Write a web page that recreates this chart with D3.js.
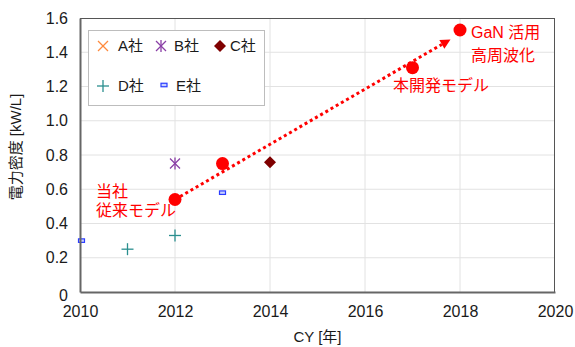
<!DOCTYPE html>
<html><head><meta charset="utf-8">
<script src="https://cdn.jsdelivr.net/npm/d3@7"></script>
<style>
html,body{margin:0;padding:0;background:#fff;}
svg{display:block;font-family:"Liberation Sans","Noto Sans CJK JP",sans-serif;}
</style></head>
<body>
<svg id="chart" width="575" height="347"></svg>
<script>
// ---- data ----
const xTicks = [2010, 2012, 2014, 2016, 2018, 2020];
const yTicks = [0, 0.2, 0.4, 0.6, 0.8, 1.0, 1.2, 1.4, 1.6];
const ourYears = [2012, 2013, 2017, 2018];
const ourValues = [0.54, 0.75, 1.31, 1.53];
const aYears = [];
const aValues = [];
const bYears = [2012];
const bValues = [0.75];
const cYears = [2014];
const cValues = [0.757];
const dYears = [2011, 2012];
const dValues = [0.25, 0.33];
const eYears = [2010, 2013];
const eValues = [0.30, 0.58];
const trendYears = [2012, 2017.8];
const trendValues = [0.54, 1.475];
const legendNames = ["A社", "B社", "C社", "D社", "E社"];
const xTitle = "CY [年]";
const yTitle = "電力密度 [kW/L]";

// ---- setup ----
const svg = d3.select("#chart");
const L = 80, R = 555, T = 18, B = 292;
const x = d3.scaleLinear().domain([2010, 2020]).range([L, R]);
const y = d3.scaleLinear().domain([0, 1.6]).range([B, T]);

// grid
const g = svg.append("g");
g.selectAll("line.hg").data(yTicks.slice(1, -1)).join("line")
  .attr("x1", L).attr("x2", R).attr("y1", d => y(d)).attr("y2", d => y(d))
  .attr("stroke", "#e2e2e2").attr("stroke-width", 1);
g.selectAll("line.vg").data(xTicks.slice(1, -1)).join("line")
  .attr("y1", T).attr("y2", B).attr("x1", d => x(d)).attr("x2", d => x(d))
  .attr("stroke", "#e2e2e2").attr("stroke-width", 1);

// marker helpers
function xMark(sel, s, col) {
  sel.append("line").attr("x1", -s).attr("y1", -s).attr("x2", s).attr("y2", s).attr("stroke", col).attr("stroke-width", 1.3);
  sel.append("line").attr("x1", -s).attr("y1", s).attr("x2", s).attr("y2", -s).attr("stroke", col).attr("stroke-width", 1.3);
}
function starMark(sel, col) {
  xMark(sel, 5, col);
  sel.append("line").attr("x1", 0).attr("y1", -6).attr("x2", 0).attr("y2", 6).attr("stroke", col).attr("stroke-width", 1.3);
}
function plusMark(sel, col) {
  sel.append("line").attr("x1", -6).attr("y1", 0).attr("x2", 6).attr("y2", 0).attr("stroke", col).attr("stroke-width", 1.3);
  sel.append("line").attr("x1", 0).attr("y1", -6).attr("x2", 0).attr("y2", 6).attr("stroke", col).attr("stroke-width", 1.3);
}
function diamondMark(sel, col) {
  sel.append("path").attr("d", "M0,-6L6,0L0,6L-6,0Z").attr("fill", col);
}
function rectMark(sel) {
  sel.append("rect").attr("x", -3).attr("y", -1.75).attr("width", 6).attr("height", 3.5)
    .attr("fill", "#c8d0ff").attr("stroke", "#2a3cff").attr("stroke-width", 1.2);
}
const colA = "#ff8a3d", colB = "#8a3fa6", colC = "#7f0000", colD = "#2a8f8f", colRed = "#ff0000";

function plotSeries(xs, vs, draw) {
  xs.forEach((yr, i) => {
    const s = svg.append("g").attr("transform", `translate(${x(yr) + 1.5 * (yr === 2010)},${y(vs[i])})`);
    draw(s);
  });
}
plotSeries(eYears, eValues, s => rectMark(s));

// frame
svg.append("line").attr("x1", L).attr("x2", R).attr("y1", T + 0.5).attr("y2", T + 0.5).attr("stroke", "#555").attr("stroke-width", 1);
svg.append("line").attr("x1", R - 0.5).attr("x2", R - 0.5).attr("y1", T).attr("y2", B).attr("stroke", "#555").attr("stroke-width", 1);

// axes
const yAxis = d3.axisLeft(y).tickValues(yTicks).tickSize(0).tickPadding(12)
  .tickFormat(d => d === 0 ? "0" : d3.format(".1f")(d));
const ya = svg.append("g").attr("transform", `translate(${L},0)`).call(yAxis);
ya.select(".domain").attr("stroke", "#666").attr("stroke-width", 2);
ya.selectAll("text").attr("font-size", 16).attr("fill", "#1a1a1a").attr("font-family", "Liberation Sans, sans-serif");
ya.selectAll(".tick").filter(d => d === 0).select("text").attr("dy", "0.5em");

const xAxis = d3.axisBottom(x).tickValues(xTicks).tickSize(0).tickPadding(14).tickFormat(d3.format("d"));
const xa = svg.append("g").attr("transform", `translate(0,${B})`).call(xAxis);
xa.select(".domain").attr("stroke", "#666").attr("stroke-width", 2);
xa.selectAll("text").attr("font-size", 16).attr("fill", "#1a1a1a").attr("font-family", "Liberation Sans, sans-serif");

// titles
svg.append("text").attr("x", (L + R) / 2).attr("y", 342).attr("text-anchor", "middle")
  .attr("font-size", 15).attr("fill", "#1a1a1a").text(xTitle);
svg.append("text").attr("transform", `translate(21,${(T + B) / 2 - 8}) rotate(-90)`).attr("text-anchor", "middle")
  .attr("font-size", 15).attr("fill", "#1a1a1a").text(yTitle);

plotSeries(dYears, dValues, s => plusMark(s, colD));
plotSeries(aYears, aValues, s => xMark(s, 5, colA));
plotSeries(bYears, bValues, s => starMark(s, colB));
plotSeries(cYears, cValues, s => diamondMark(s, colC));

// trend arrow
const tx1 = x(trendYears[0]), ty1 = y(trendValues[0]), tx2 = x(trendYears[1]), ty2 = y(trendValues[1]);
const ang = Math.atan2(ty2 - ty1, tx2 - tx1);
const headLen = 10;
const bx = tx2 - headLen * Math.cos(ang), by = ty2 - headLen * Math.sin(ang);
svg.append("line").attr("x1", tx1).attr("y1", ty1).attr("x2", bx).attr("y2", by)
  .attr("stroke", colRed).attr("stroke-width", 3).attr("stroke-dasharray", "3,3");
const px = -Math.sin(ang), py = Math.cos(ang);
svg.append("path").attr("d", `M${tx2},${ty2}L${bx + px * 5},${by + py * 5}L${bx - px * 5},${by - py * 5}Z`).attr("fill", colRed);

// our dots
svg.selectAll("circle.our").data(ourYears).join("circle")
  .attr("cx", d => x(d)).attr("cy", (d, i) => y(ourValues[i])).attr("r", 6.5).attr("fill", colRed);

// annotations
function ann(xp, yp, t) {
  svg.append("text").attr("x", xp).attr("y", yp).attr("font-size", 16).attr("fill", colRed).text(t);
}
ann(96, 197, "当社");
ann(96, 216, "従来モデル");
ann(393, 91, "本開発モデル");
ann(471, 38, "GaN 活用");
ann(471, 61, "高周波化");

// legend
svg.append("rect").attr("x", 88.5).attr("y", 30.5).attr("width", 176).attr("height", 75)
  .attr("fill", "#fff").attr("stroke", "#bdbdbd").attr("stroke-width", 1);
const legItems = [
  {n: legendNames[0], mx: 103, my: 46, tx: 118, ty: 51, draw: s => xMark(s, 5, colA)},
  {n: legendNames[1], mx: 161, my: 46, tx: 174, ty: 51, draw: s => starMark(s, colB)},
  {n: legendNames[2], mx: 220, my: 46, tx: 230, ty: 51, draw: s => diamondMark(s, colC)},
  {n: legendNames[3], mx: 103, my: 86, tx: 118, ty: 91, draw: s => plusMark(s, colD)},
  {n: legendNames[4], mx: 164, my: 85, tx: 176, ty: 91, draw: s => rectMark(s)}
];
legItems.forEach(it => {
  const s = svg.append("g").attr("transform", `translate(${it.mx},${it.my})`);
  it.draw(s);
  svg.append("text").attr("x", it.tx).attr("y", it.ty).attr("font-size", 15).attr("fill", "#1a1a1a").text(it.n);
});
</script>
</body></html>
